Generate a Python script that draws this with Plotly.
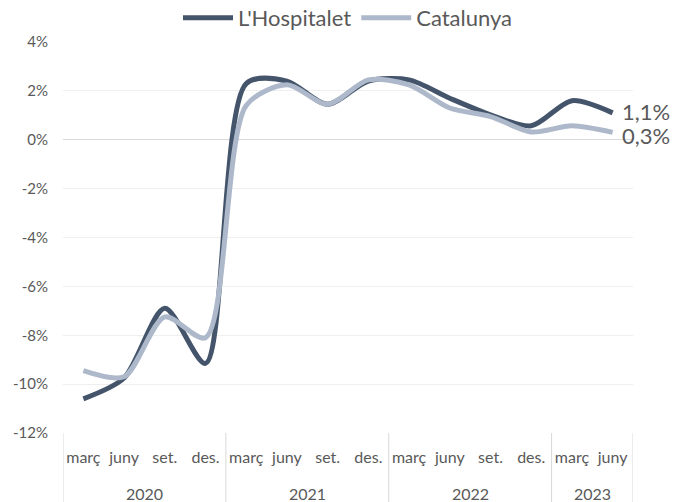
import plotly.graph_objects as go

years = ["2020"] * 4 + ["2021"] * 4 + ["2022"] * 4 + ["2023"] * 2
quarters = ["març", "juny", "set.", "des."] * 3 + ["març", "juny"]

hospitalet = [-10.6, -9.75, -6.9, -9.15, 2.3, 2.4, 1.45, 2.4, 2.45, 1.7, 1.02, 0.57, 1.6, 1.1]
catalunya = [-9.45, -9.7, -7.25, -8.1, 1.4, 2.25, 1.45, 2.45, 2.25, 1.3, 0.95, 0.32, 0.57, 0.3]

end_label_h = "1,1%"
end_label_c = "0,3%"

ytick_vals = [4, 2, 0, -2, -4, -6, -8, -10, -12]
ytick_text = ["4%", "2%", "0%", "-2%", "-4%", "-6%", "-8%", "-10%", "-12%"]

dark = "#44546A"
light = "#ADB9CA"
txt = "#595959"
divc = "#D9D9D9"
font = "Lato"

W, H = 673, 502
ML, MR, MT, MB = 63, 40, 42, 69
plot_h = H - MT - MB

x_keys = [f"{q} {y}" for y, q in zip(years, quarters)]

# year groups (start, end index) derived from the years list
groups = []
for i, y in enumerate(years):
    if groups and groups[-1][0] == y:
        groups[-1][2] = i
    else:
        groups.append([y, i, i])

fig = go.Figure()
fig.add_trace(go.Scatter(
    x=x_keys, y=hospitalet, name="L'Hospitalet", mode="lines",
    line=dict(color=dark, width=5, shape="spline", smoothing=0.8),
    cliponaxis=False,
))
fig.add_trace(go.Scatter(
    x=x_keys, y=catalunya, name="Catalunya", mode="lines",
    line=dict(color=light, width=5, shape="spline", smoothing=0.8),
    cliponaxis=False,
))

annotations = []
shapes = []
bounds = [-0.5] + [g[2] + 0.5 for g in groups]
for g in groups:
    annotations.append(dict(
        x=(g[1] + g[2]) / 2, xref="x", y=-60 / plot_h, yref="paper",
        text=g[0], showarrow=False, xanchor="center", yanchor="middle",
        font=dict(size=16, color=txt, family=font),
    ))
for b in bounds:
    shapes.append(dict(
        type="line", xref="x", x0=b, x1=b, yref="paper", y0=0, y1=-MB / plot_h,
        line=dict(color=divc, width=1), layer="below",
    ))
for label, series, ysh in [(end_label_h, hospitalet, 1), (end_label_c, catalunya, -3)]:
    annotations.append(dict(
        x=x_keys[-1], y=series[-1], xref="x", yref="y", text=label,
        showarrow=False, xanchor="left", yanchor="middle", xshift=8, yshift=ysh,
        font=dict(size=22, color=txt, family=font), borderpad=0,
    ))

fig.update_layout(
    width=W, height=H,
    margin=dict(l=ML, r=MR, t=MT, b=MB, autoexpand=False),
    paper_bgcolor="white", plot_bgcolor="white",
    font=dict(family=font, color=txt, size=14),
    showlegend=True,
    legend=dict(orientation="h", x=0.5, xanchor="center", y=1 + 24 / plot_h, yanchor="middle",
                font=dict(size=22, color=txt, family=font), itemwidth=50),
    annotations=annotations, shapes=shapes,
)
fig.update_yaxes(
    range=[-12, 4], tickvals=ytick_vals, ticktext=ytick_text, automargin=False,
    showgrid=True, gridcolor="#EFEFEF", gridwidth=1,
    zeroline=True, zerolinecolor=divc, zerolinewidth=1,
    showline=False, ticks="", tickfont=dict(size=15, color=txt),
    ticklabelstandoff=14,
)
fig.update_xaxes(
    type="category", range=[-0.5, len(x_keys) - 0.5],
    tickvals=x_keys, ticktext=quarters,
    showgrid=False, zeroline=False, automargin=False,
    showline=False, ticks="", tickfont=dict(size=16, color=txt), tickangle=0,
    ticklabelstandoff=13,
)

fig.write_html("out.html", config={"displayModeBar": False},
               post_script="document.body.style.margin='0px';")
